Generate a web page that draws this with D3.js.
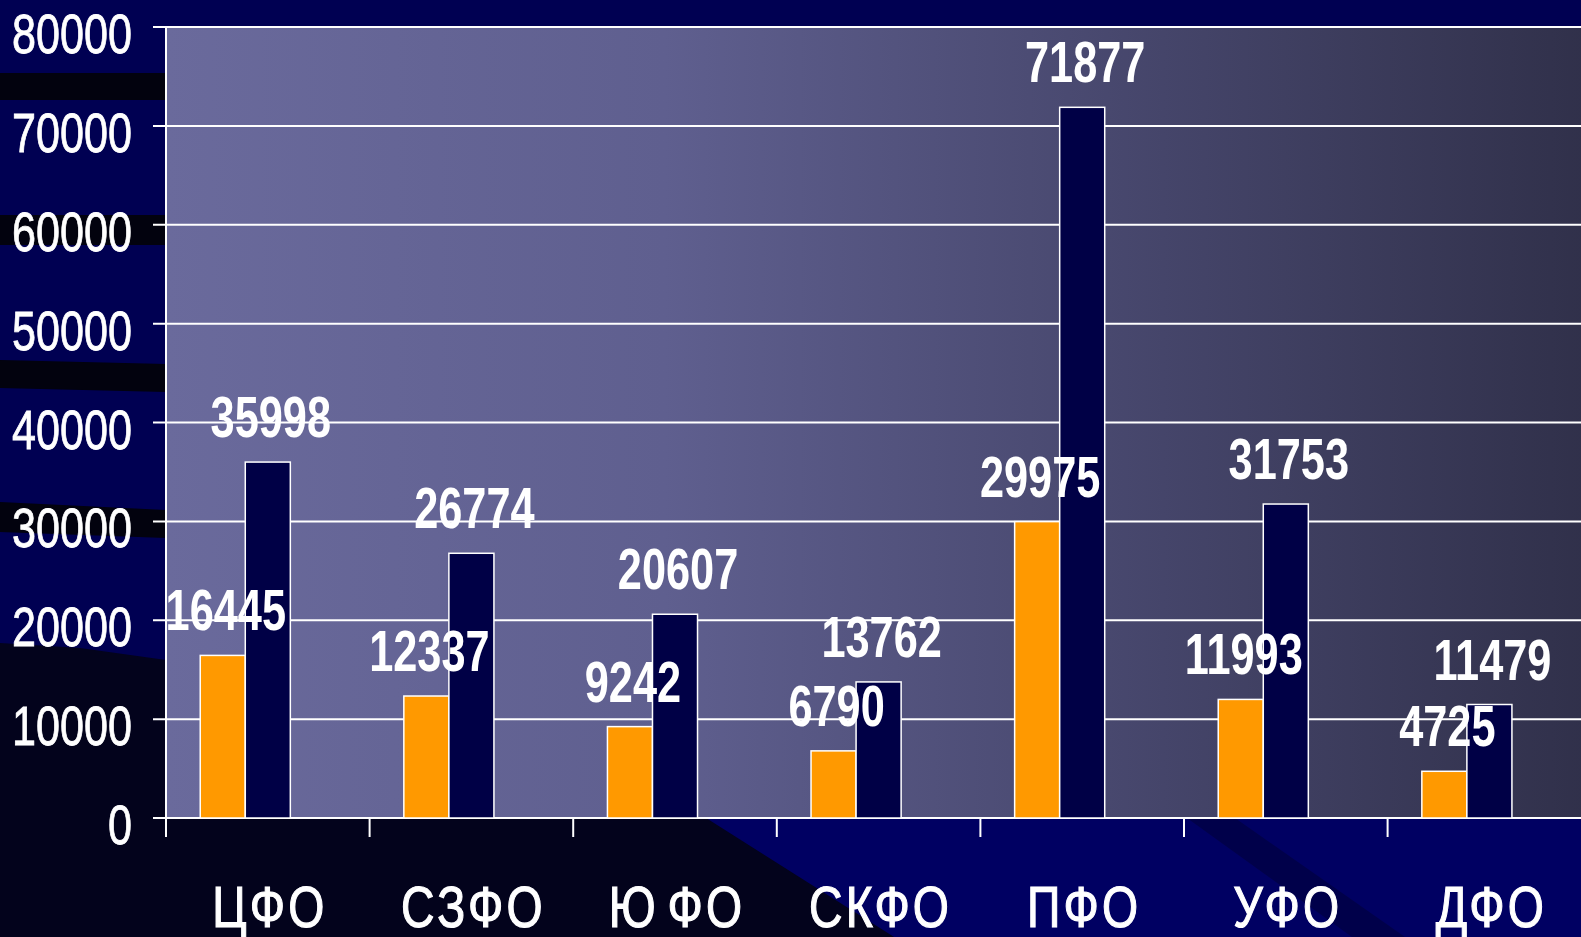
<!DOCTYPE html>
<html lang="ru">
<head>
	<meta charset="UTF-8">
	<title>ФО</title>
	<script src="https://cdn.jsdelivr.net/npm/d3@7"></script>
	<style>
		html, body {
			margin: 0;
			padding: 0;
			background: #000050;
			overflow: hidden;
		}

		.grid line {
			stroke: #ffffff;
			stroke-width: 2px;
		}

		.axis path, .axis line {
			stroke: #ffffff;
			stroke-width: 2px;
			fill: none;
		}

		.tick-label {
			fill: #ffffff;
			font-family: "Liberation Sans", Arial, sans-serif;
			font-size: 56px;
		}

		.value {
			fill: #ffffff;
			font-family: "Liberation Sans", Arial, sans-serif;
			font-weight: bold;
			font-size: 57px;
		}

		.cat {
			fill: #ffffff;
			font-family: "Liberation Sans", Arial, sans-serif;
			font-size: 58px;
			word-spacing: -9px;
		}
	</style>
</head>
<body>
<script>
	var categories = ["ЦФО", "СЗФО", "Ю ФО", "СКФО", "ПФО", "УФО", "ДФО"];
	var seriesA = [16445, 12337, 9242, 6790, 29975, 11993, 4725];
	var seriesB = [35998, 26774, 20607, 13762, 71877, 31753, 11479];
	var yTicks = [0, 10000, 20000, 30000, 40000, 50000, 60000, 70000, 80000];
	var seriesColors = ["#ff9900", "#000046"];

	var width = 1581, height = 937;
	var plotLeft = 166, plotTop = 27, plotBottom = 818;
	var step = 203.6;

	var svg = d3.select("body").append("svg")
		.attr("width", width)
		.attr("height", height);

	var defs = svg.append("defs");
	var grad = defs.append("linearGradient")
		.attr("id", "plotbg")
		.attr("x1", "0%").attr("x2", "100%")
		.attr("y1", "0%").attr("y2", "0%");
	grad.append("stop").attr("offset", "0%").attr("stop-color", "#6a6a9c");
	grad.append("stop").attr("offset", "35%").attr("stop-color", "#5f5f8f");
	grad.append("stop").attr("offset", "70%").attr("stop-color", "#45456a");
	grad.append("stop").attr("offset", "100%").attr("stop-color", "#30304a");

	// slide background decoration
	var deco = svg.append("g");
	deco.append("rect").attr("width", width).attr("height", height).attr("fill", "#000052");
	var strips = [
		[[0, 73], [166, 73], [166, 100], [0, 100]],
		[[0, 215], [166, 215], [166, 245], [0, 245]],
		[[0, 360], [166, 364], [166, 392], [0, 388]],
		[[0, 502], [166, 510], [166, 538], [0, 532]]
	];
	strips.forEach(function (s) {
		deco.append("path").attr("d", "M" + s.join("L") + "Z").attr("fill", "#02020e");
	});
	deco.append("path")
		.attr("d", "M706,818 L1581,818 L1581,937 L894,937 Z")
		.attr("fill", "#000062");
	deco.append("path")
		.attr("d", "M0,643 L80,648 L166,660 L166,818 L706,818 L894,937 L0,937 Z")
		.attr("fill", "#03031c");
	deco.append("path")
		.attr("d", "M1187,818 L1235,818 L1405,937 L1352,937 Z")
		.attr("fill", "#00004a");

	var x = d3.scaleBand()
		.domain(categories)
		.range([plotLeft, plotLeft + step * categories.length])
		.padding(0);

	// third slot left empty, as in the original chart
	var x1 = d3.scaleBand()
		.domain([0, 1, 2])
		.range([0, x.bandwidth()])
		.paddingInner(0)
		.paddingOuter(0.76);

	var y = d3.scaleLinear()
		.domain([0, 80000])
		.range([plotBottom, plotTop]);

	svg.append("rect")
		.attr("x", plotLeft)
		.attr("y", plotTop)
		.attr("width", x.range()[1] - plotLeft)
		.attr("height", plotBottom - plotTop)
		.attr("fill", "url(#plotbg)");

	svg.append("g")
		.attr("class", "grid")
		.selectAll("line")
		.data(yTicks)
		.enter().append("line")
		.attr("x1", plotLeft - 13)
		.attr("x2", x.range()[1])
		.attr("y1", function (d) { return y(d); })
		.attr("y2", function (d) { return y(d); });

	svg.append("line")
		.attr("x1", plotLeft).attr("x2", plotLeft)
		.attr("y1", plotTop).attr("y2", plotBottom + 19)
		.attr("stroke", "#fff").attr("stroke-width", 2);

	svg.append("g")
		.attr("class", "axis")
		.selectAll("line")
		.data(categories.slice(1))
		.enter().append("line")
		.attr("x1", function (d) { return x(d); })
		.attr("x2", function (d) { return x(d); })
		.attr("y1", plotBottom)
		.attr("y2", plotBottom + 19);

	svg.append("g")
		.selectAll("text")
		.data(yTicks)
		.enter().append("text")
		.attr("class", "tick-label")
		.attr("text-anchor", "end")
		.attr("stroke", "#ffffff")
		.attr("stroke-width", 0.8)
		.attr("transform", function (d) {
			return "translate(132," + (y(d) + 26) + ") scale(0.77,1)";
		})
		.text(function (d) { return d; });

	var series = [seriesA, seriesB];
	var groups = svg.append("g");

	series.forEach(function (vals, si) {
		groups.append("g")
			.selectAll("rect")
			.data(vals)
			.enter().append("rect")
			.attr("x", function (d, i) { return x(categories[i]) + x1(si); })
			.attr("y", function (d) { return y(d); })
			.attr("width", x1.bandwidth())
			.attr("height", function (d) { return plotBottom - y(d); })
			.attr("fill", seriesColors[si])
			.attr("stroke", "#ffffff")
			.attr("stroke-width", 1.5);
	});

	series.forEach(function (vals, si) {
		svg.append("g")
			.selectAll("text")
			.data(vals)
			.enter().append("text")
			.attr("class", "value")
			.attr("text-anchor", "middle")
			.attr("transform", function (d, i) {
				var cx = x(categories[i]) + x1(si) + x1.bandwidth() / 2 + 3;
				return "translate(" + cx + "," + (y(d) - 25) + ") scale(0.76,1)";
			})
			.text(function (d) { return d; });
	});

	svg.append("g")
		.selectAll("text")
		.data(categories)
		.enter().append("text")
		.attr("class", "cat")
		.attr("text-anchor", "middle")
		.attr("letter-spacing", "4px")
		.attr("stroke", "#ffffff")
		.attr("stroke-width", 1.2)
		.attr("transform", function (d) {
			return "translate(" + (x(d) + x.bandwidth() / 2 + 2) + ",927) scale(0.8,1)";
		})
		.text(function (d) { return d; });
</script>
</body>
</html>
